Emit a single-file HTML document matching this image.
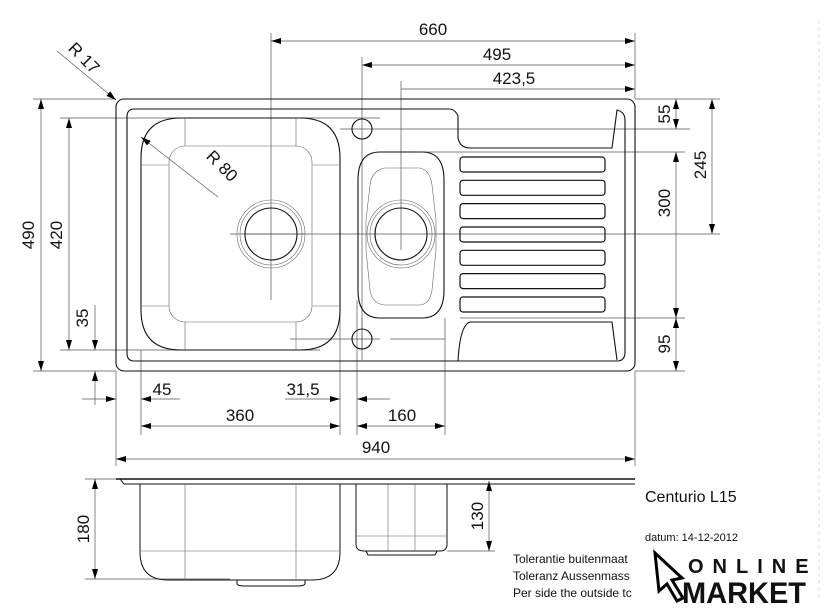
<!DOCTYPE html>
<html><head><meta charset="utf-8"><style>
html,body{margin:0;padding:0;background:#fff;}
svg{display:block;}
text{font-family:"Liberation Sans",sans-serif;fill:#111;}
</style></head><body>
<svg width="840" height="615" viewBox="0 0 840 615" xmlns="http://www.w3.org/2000/svg">
<defs>
<marker id="a" viewBox="0 0 10 6" refX="10" refY="3" markerWidth="10" markerHeight="6" orient="auto-start-reverse" markerUnits="userSpaceOnUse"><path d="M0,0 L10,3 L0,6z" fill="#000"/></marker>
</defs>
<g stroke="#555" stroke-width="0.7" fill="none">
<!-- extension lines -->
<line x1="271" y1="33" x2="271" y2="300"/>
<line x1="362" y1="57" x2="362" y2="350"/>
<line x1="401" y1="81" x2="401" y2="250"/>
<line x1="635" y1="33" x2="635" y2="99"/>
<line x1="33" y1="99" x2="116" y2="99"/>
<line x1="60" y1="118" x2="380" y2="118"/>
<line x1="60" y1="350" x2="320" y2="350"/>
<line x1="33" y1="371" x2="116" y2="371"/>
<line x1="340" y1="129" x2="690" y2="129"/>
<line x1="635" y1="99" x2="720" y2="99"/>
<line x1="420" y1="152" x2="685" y2="152"/>
<line x1="244" y1="234" x2="720" y2="234"/>
<line x1="460" y1="318" x2="685" y2="318"/>
<line x1="635" y1="371" x2="685" y2="371"/>
<line x1="116" y1="371" x2="116" y2="466"/>
<line x1="141" y1="350" x2="141" y2="435"/>
<line x1="340" y1="234" x2="340" y2="435"/>
<line x1="357" y1="300" x2="357" y2="435"/>
<line x1="445" y1="318" x2="445" y2="435"/>
<line x1="635" y1="371" x2="635" y2="466"/>
<line x1="85" y1="479" x2="116" y2="479"/>
<line x1="85" y1="579" x2="230" y2="579"/>
<line x1="447" y1="551" x2="495" y2="551"/>
<line x1="445" y1="339" x2="390" y2="339"/>
<!-- dims -->
<line x1="271" y1="41" x2="635" y2="41" marker-start="url(#a)" marker-end="url(#a)"/>
<line x1="362" y1="65" x2="635" y2="65" marker-start="url(#a)" marker-end="url(#a)"/>
<line x1="401" y1="89" x2="635" y2="89" marker-end="url(#a)"/>
<line x1="41" y1="99" x2="41" y2="371" marker-start="url(#a)" marker-end="url(#a)"/>
<line x1="69" y1="118" x2="69" y2="350" marker-start="url(#a)" marker-end="url(#a)"/>
<line x1="95" y1="305" x2="95" y2="350" marker-end="url(#a)"/>
<line x1="95" y1="371" x2="95" y2="405" marker-start="url(#a)"/>
<line x1="676" y1="99" x2="676" y2="129" marker-start="url(#a)" marker-end="url(#a)"/>
<line x1="712" y1="99" x2="712" y2="234" marker-start="url(#a)" marker-end="url(#a)"/>
<line x1="676" y1="152" x2="676" y2="318" marker-start="url(#a)" marker-end="url(#a)"/>
<line x1="676" y1="318" x2="676" y2="371" marker-start="url(#a)" marker-end="url(#a)"/>
<line x1="82" y1="399" x2="116" y2="399" marker-end="url(#a)"/>
<line x1="141" y1="399" x2="180" y2="399" marker-start="url(#a)"/>
<line x1="285" y1="399" x2="340" y2="399" marker-end="url(#a)"/>
<line x1="357" y1="399" x2="390" y2="399" marker-start="url(#a)"/>
<line x1="141" y1="426" x2="340" y2="426" marker-start="url(#a)" marker-end="url(#a)"/>
<line x1="357" y1="426" x2="445" y2="426" marker-start="url(#a)" marker-end="url(#a)"/>
<line x1="116" y1="459" x2="635" y2="459" marker-start="url(#a)" marker-end="url(#a)"/>
<line x1="95" y1="479" x2="95" y2="579" marker-start="url(#a)" marker-end="url(#a)"/>
<line x1="489" y1="481" x2="489" y2="551" marker-start="url(#a)" marker-end="url(#a)"/>
<line x1="57" y1="51" x2="116" y2="100" marker-end="url(#a)"/>
<line x1="141" y1="137" x2="218" y2="197" marker-start="url(#a)"/>
<line x1="819" y1="20" x2="819" y2="600" stroke="#ccc" stroke-dasharray="4,3"/>
<!-- center crosses -->
<line x1="230" y1="234" x2="305" y2="234"/>
<line x1="290" y1="339" x2="380" y2="339"/>
<line x1="362" y1="318" x2="362" y2="360"/>
</g>
<!-- plan view -->
<g stroke="#111" stroke-width="1.1" fill="none">
<rect x="116" y="99" width="519" height="272" rx="8"/>
<path d="M134,109 H449 Q455,109 458,116 V138 Q460,148 470,148 H612 L617,110 Q625,112 625,120 V352 Q625,361 617,361 H134 Q127,361 127,353 V117 Q127,109 134,109z"/>
<path d="M458,361 Q460,325 470,322 H612 L617,360" />
<path d="M181,118 H300 Q340,118 340,158 V310 Q340,350 300,350 H181 Q141,350 141,310 V158 Q141,118 181,118z"/>
<path d="M380,152 H422 Q444,152 444,180 V290 Q444,318 422,318 H380 Q358,318 358,290 V180 Q358,152 380,152z"/>
<circle cx="271" cy="234" r="26"/>
<circle cx="401" cy="234" r="26"/>
<circle cx="362" cy="129" r="10"/>
<circle cx="362" cy="339" r="10"/>
<g stroke-width="1.2">
<rect x="460" y="157" width="145" height="15" rx="3"/>
<rect x="460" y="180.3" width="145" height="15" rx="3"/>
<rect x="460" y="203.6" width="145" height="15" rx="3"/>
<rect x="460" y="227" width="145" height="15" rx="3"/>
<rect x="460" y="250.3" width="145" height="15" rx="3"/>
<rect x="460" y="273.6" width="145" height="15" rx="3"/>
<rect x="460" y="297" width="145" height="15" rx="3"/>
</g>
</g>
<g stroke="#666" stroke-width="0.6" fill="none">
<rect x="169" y="146" width="143" height="176" rx="16"/>
<line x1="185" y1="118" x2="185" y2="146"/><line x1="296" y1="118" x2="296" y2="146"/>
<line x1="185" y1="322" x2="185" y2="350"/><line x1="296" y1="322" x2="296" y2="350"/>
<line x1="141" y1="165" x2="169" y2="165"/><line x1="312" y1="165" x2="340" y2="165"/>
<line x1="141" y1="306" x2="169" y2="306"/><line x1="312" y1="306" x2="340" y2="306"/>
<circle cx="271" cy="234" r="34"/><circle cx="271" cy="234" r="31"/>
<circle cx="401" cy="234" r="34"/><circle cx="401" cy="234" r="31"/>
<path d="M385,168 H420 Q430,170 432,185 L436,220 V250 L432,290 Q430,304 420,305 H385 Q372,304 370,290 L366,250 V220 L370,185 Q372,170 385,168z"/>
</g>
<!-- side view -->
<g stroke="#111" stroke-width="1" fill="none">
<line x1="116" y1="479" x2="635" y2="479" stroke-width="1.4"/>
<path d="M120,479 L124,484 H635"/>
<path d="M140,484 V552 Q140,580 168,580 H312 Q340,580 340,552 V484"/>
<path d="M237,580 V584 Q238,586 245,586 H297 Q304,586 305,584 V580"/>
<path d="M356,484 V544 Q356,551 364,551 H440 Q447,551 447,544 V484"/>
<path d="M366,551 L368,555 H435 L437,551"/>
</g>
<g stroke="#666" stroke-width="0.6">
<line x1="185" y1="484" x2="185" y2="580"/><line x1="296" y1="484" x2="296" y2="580"/>
<line x1="140" y1="551" x2="340" y2="551"/>
<line x1="388" y1="484" x2="388" y2="551"/><line x1="415" y1="484" x2="415" y2="551"/>
<line x1="356" y1="536" x2="447" y2="536"/>
</g>
<!-- labels -->
<g font-size="17">
<text x="433" y="35" text-anchor="middle">660</text>
<text x="497" y="60" text-anchor="middle">495</text>
<text x="514" y="84" text-anchor="middle">423,5</text>
<text x="162" y="395" text-anchor="middle">45</text>
<text x="303" y="395" text-anchor="middle">31,5</text>
<text x="240" y="421" text-anchor="middle">360</text>
<text x="402" y="421" text-anchor="middle">160</text>
<text x="376" y="453" text-anchor="middle">940</text>
<text transform="translate(40,235) rotate(-90)" text-anchor="middle" y="-6">490</text>
<text transform="translate(68,235) rotate(-90)" text-anchor="middle" y="-6">420</text>
<text transform="translate(88,318) rotate(-90)" text-anchor="middle">35</text>
<text transform="translate(670,114) rotate(-90)" text-anchor="middle">55</text>
<text transform="translate(706,165) rotate(-90)" text-anchor="middle">245</text>
<text transform="translate(670,203) rotate(-90)" text-anchor="middle">300</text>
<text transform="translate(670,344) rotate(-90)" text-anchor="middle">95</text>
<text transform="translate(89,529) rotate(-90)" text-anchor="middle">180</text>
<text transform="translate(483,516) rotate(-90)" text-anchor="middle">130</text>
<text transform="translate(80,62) rotate(45)" text-anchor="middle">R 17</text>
<text transform="translate(218,170) rotate(45)" text-anchor="middle">R 80</text>
</g>
<text x="645" y="502" font-size="16">Centurio L15</text>
<text x="645" y="541" font-size="11">datum: 14-12-2012</text>
<text x="513" y="563" font-size="12">Tolerantie buitenmaat</text>
<text x="513" y="580" font-size="12">Toleranz Aussenmass</text>
<text x="513" y="597" font-size="12">Per side the outside tc</text>
<rect x="652" y="548" width="160" height="60" fill="#fff"/>
<path d="M655,553 L682,578 L672,580 L683,598 L677,601 L667,584 L659,591z" fill="#fff" stroke="#000" stroke-width="3"/>
<text x="688" y="573" font-size="20" font-weight="bold" letter-spacing="9">ONLINE</text>
<text x="682" y="603" font-size="30" font-weight="bold" transform="scale(1,1)" textLength="124" lengthAdjust="spacingAndGlyphs">MARKET</text>
</svg>
</body></html>
